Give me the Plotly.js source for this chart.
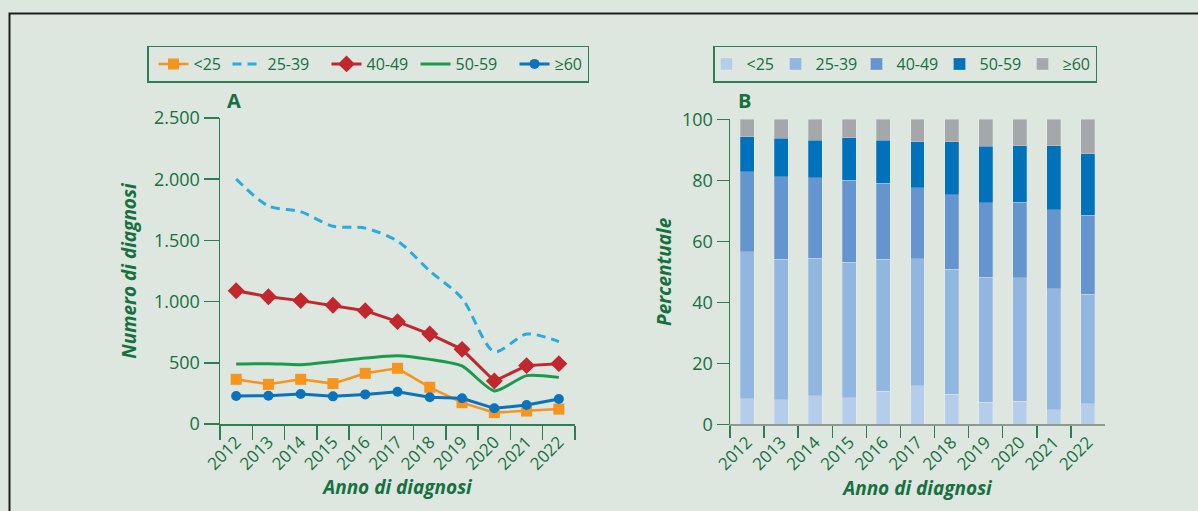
<!DOCTYPE html>
<html><head><meta charset="utf-8">
<script src="https://cdn.plot.ly/plotly-3.0.1.min.js"></script>
<style>html,body{margin:0;padding:0;background:#dde6df;} #chart{width:1198px;height:511px;}</style>
</head><body><div id="chart"></div>
<script>
const years = ['2012','2013','2014','2015','2016','2017','2018','2019','2020','2021','2022'];
const ageGroups = ['<25','25-39','40-49','50-59','≥60'];
// Panel A: number of diagnoses
const diagUnder25 = [365,324,365,330,414,455,300,174,93,106,122];
const diag25to39  = [2002,1781,1735,1615,1600,1495,1250,1027,591,735,673];
const diag40to49  = [1089,1040,1008,970,926,836,735,610,351,477,493];
const diag50to59  = [490,493,485,509,539,558,528,474,270,395,381];
const diag60plus  = [229,231,245,226,242,264,218,210,128,155,204];
// Panel B: percentage
const pctUnder25 = [8.4,8.0,9.3,8.7,10.9,12.6,9.8,7.2,7.5,4.7,6.7];
const pct25to39  = [48.1,46.1,45.2,44.4,43.2,41.6,41.1,41.0,40.5,39.7,35.9];
const pct40to49  = [26.3,27.0,26.3,26.9,24.9,23.3,24.3,24.4,24.8,25.9,26.0];
const pct50to59  = [11.4,12.7,12.4,13.9,14.2,15.2,17.4,18.6,18.5,21.0,20.1];
const pct60plus  = [5.8,6.2,6.8,6.1,6.8,7.3,7.4,8.8,8.7,8.7,11.3];

const GREEN = '#17703f';
const AXIS = '#2f7d55';
const BG = '#dde6df';
const FONT = 'Open Sans, Noto Sans, sans-serif';
const W = 1198, H = 511;
const px = v => v / W;
const py = v => (H - v) / H;

const lineColors = ['#f7941d','#29abe2','#c1272d','#1a9b4b','#0b72bd'];
const barColors = ['#b4cdea','#91b6e0','#6495cf','#0072bc','#a5a8aa'];
const legendWidthsA = [24,49,39,49,null];
const legendWidthsB = [32,44,46,46,null];

const diagSeries = [diagUnder25, diag25to39, diag40to49, diag50to59, diag60plus];
const pctSeries = [pctUnder25, pct25to39, pct40to49, pct50to59, pct60plus];
const lineStyles = [
  {line:{color:lineColors[0],width:2.5}, mode:'lines+markers', marker:{symbol:'square',size:11,color:lineColors[0]}},
  {line:{color:lineColors[1],width:3,dash:'9px,6px',shape:'spline',smoothing:0.8}, mode:'lines'},
  {line:{color:lineColors[2],width:3}, mode:'lines+markers', marker:{symbol:'diamond',size:13,color:lineColors[2]}},
  {line:{color:lineColors[3],width:3,shape:'spline',smoothing:0.6}, mode:'lines'},
  {line:{color:lineColors[4],width:3}, mode:'lines+markers', marker:{symbol:'circle',size:10,color:lineColors[4]}}
];

const traces = [];
diagSeries.forEach((vals,i) => {
  const t = Object.assign({
    type:'scatter', x: years, y: vals, name: ageGroups[i],
    xaxis:'x', yaxis:'y', legend:'legend', cliponaxis:false
  }, lineStyles[i]);
  if (legendWidthsA[i]) t.legendwidth = legendWidthsA[i];
  traces.push(t);
});
pctSeries.forEach((vals,i) => {
  const t = {
    type:'bar', x: years, y: vals, name: ageGroups[i],
    xaxis:'x2', yaxis:'y2', legend:'legend2',
    marker:{color:barColors[i], line:{color:'rgba(255,255,255,0.35)', width:0.6}}
  };
  if (legendWidthsB[i]) t.legendwidth = legendWidthsB[i];
  traces.push(t);
});

const tickFont = {family:FONT, size:17, color:GREEN};
const titleFont = {family:FONT, size:19, color:GREEN, weight:'bold', style:'italic'};

const layout = {
  width: W, height: H,
  margin:{l:0,r:0,t:0,b:0},
  paper_bgcolor: BG, plot_bgcolor: BG,
  separators: ',.',
  barmode:'stack', bargap:0.59,
  font:{family:FONT, color:GREEN},
  showlegend:true,
  xaxis:{
    domain:[px(220), px(575)], anchor:'y', type:'category', range:[-0.5,10.5],
    tickson:'boundaries', ticks:'outside', ticklen:14, tickwidth:1.5, tickcolor:AXIS,
    showline:true, linecolor:AXIS, linewidth:1.5, showgrid:false, zeroline:false,
    tickangle:-45, tickfont:tickFont,
    title:{text:'Anno di diagnosi', font:titleFont, standoff:3}
  },
  yaxis:{
    domain:[py(424), py(118)], anchor:'x', range:[0,2500], dtick:500,
    separatethousands:true,
    ticks:'outside', ticklen:15, tickwidth:1.5, tickcolor:AXIS,
    showline:true, linecolor:AXIS, linewidth:1.5, showgrid:false, zeroline:false,
    tickfont:{family:FONT, size:18, color:GREEN},
    title:{text:'Numero di diagnosi', font:titleFont, standoff:12}
  },
  xaxis2:{
    domain:[px(730), px(1105)], anchor:'y2', type:'category', range:[-0.5,10.5],
    tickson:'boundaries', ticks:'outside', ticklen:12, tickwidth:1.5, tickcolor:AXIS,
    showline:true, linecolor:'#8d9a92', linewidth:1.5, showgrid:false, zeroline:false,
    tickangle:-45, tickfont:tickFont,
    title:{text:'Anno di diagnosi', font:titleFont, standoff:3}
  },
  yaxis2:{
    domain:[py(424.3), py(119.3)], anchor:'x2', range:[0,100], dtick:20,
    ticks:'outside', ticklen:12, tickwidth:1.5, tickcolor:AXIS,
    showline:true, linecolor:AXIS, linewidth:1.5, showgrid:false, zeroline:false,
    tickfont:{family:FONT, size:18, color:GREEN},
    title:{text:'Percentuale', font:titleFont, standoff:5}
  },
  legend:{
    orientation:'h', x:px(147), y:py(45.5), xanchor:'left', yanchor:'top',
    traceorder:'normal', bgcolor:BG, bordercolor:AXIS, borderwidth:1.5, indentation:5,
    font:{family:FONT, size:16, color:GREEN}
  },
  legend2:{
    orientation:'h', x:px(713), y:py(45.5), xanchor:'left', yanchor:'top',
    traceorder:'normal', bgcolor:BG, bordercolor:AXIS, borderwidth:1.5, indentation:-8,
    font:{family:FONT, size:16, color:GREEN}
  },
  annotations:[
    {text:'<b>A</b>', xref:'paper', yref:'paper', x:px(225), y:py(100), xanchor:'left', yanchor:'middle', showarrow:false, font:{family:FONT, size:20, color:GREEN}},
    {text:'<b>B</b>', xref:'paper', yref:'paper', x:px(736), y:py(100), xanchor:'left', yanchor:'middle', showarrow:false, font:{family:FONT, size:20, color:GREEN}}
  ],
  shapes:[
    {type:'rect', xref:'paper', yref:'paper', x0:px(9.5), x1:1.05, y0:-0.05, y1:py(13.5), line:{color:'#1e1e1e', width:2}, layer:'below'}
  ]
};

Plotly.newPlot('chart', traces, layout, {displayModeBar:false, staticPlot:true});
</script>
</body></html>
